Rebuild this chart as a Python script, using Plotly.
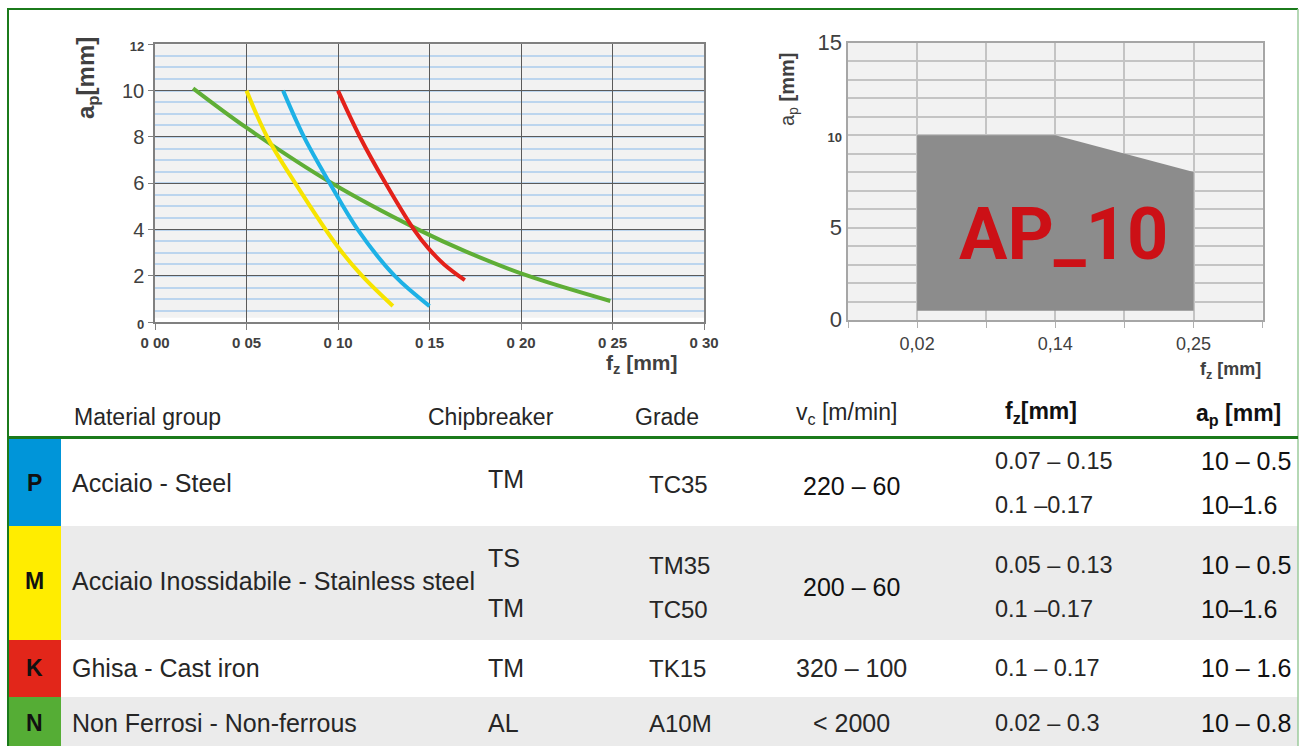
import plotly.graph_objects as go

W, H = 1300, 746

def px(x):
    return x / W

def py(y):
    return 1 - y / H

# ---------------- data: left chart (ap vs fz curves) ----------------
fz_ticks_left = [0.00, 0.05, 0.10, 0.15, 0.20, 0.25, 0.30]
fz_ticklabels_left = ["0 00", "0 05", "0 10", "0 15", "0 20", "0 25", "0 30"]
ap_ticks_left = [0, 2, 4, 6, 8, 10, 12]

green_fz = [0.0208, 0.05, 0.0967, 0.1439, 0.17, 0.204, 0.2488]
green_ap = [10.1, 8.4, 6.0, 4.0, 3.05, 2.0, 0.92]

yellow_fz = [0.05, 0.0613, 0.0767, 0.10, 0.1132, 0.13]
yellow_ap = [10.0, 8.0, 6.0, 3.25, 2.0, 0.7]

blue_fz = [0.07, 0.0814, 0.0955, 0.1108, 0.131, 0.15]
blue_ap = [10.0, 8.0, 6.0, 4.0, 2.0, 0.7]

red_fz = [0.10, 0.112, 0.126, 0.1415, 0.1493, 0.158, 0.1693]
red_ap = [10.0, 8.0, 6.0, 4.0, 3.2, 2.5, 1.82]

# ---------------- data: right chart (AP_10 working area) ----------------
fz_ticks_right = [0.02, 0.14, 0.25]
fz_ticklabels_right = ["0,02", "0,14", "0,25"]
ap_ticks_right = [0, 5, 10, 15]
area_fz = [0.02, 0.02, 0.14, 0.25, 0.25]
area_ap = [0.5, 10, 10, 8, 0.5]
area_label = "AP_10"

# ---------------- data: table ----------------
groups = ["P", "M", "K", "N"]
materials = ["Acciaio - Steel", "Acciaio Inossidabile - Stainless steel",
             "Ghisa - Cast iron", "Non Ferrosi - Non-ferrous"]
chipbreakers = [["TM"], ["TS", "TM"], ["TM"], ["AL"]]
grades = [["TC35"], ["TM35", "TC50"], ["TK15"], ["A10M"]]
vc_ranges = ["220 – 60", "200 – 60", "320 – 100", "< 2000"]
fz_ranges = [["0.07 – 0.15", "0.1 –0.17"], ["0.05 – 0.13", "0.1 –0.17"], ["0.1 – 0.17"], ["0.02 – 0.3"]]
ap_ranges = [["10 – 0.5", "10–1.6"], ["10 – 0.5", "10–1.6"], ["10 – 1.6"], ["10 – 0.8"]]
headers = ["Material group", "Chipbreaker", "Grade", "v<sub>c</sub> [m/min]",
           "<b>f<sub>z</sub>[mm]</b>", "<b>a<sub>p</sub> [mm]</b>"]

# ---------------- styles / layout positions ----------------
group_colors = ["#0095d9", "#ffed00", "#e2261a", "#55ad35"]
row_bg = ["#ffffff", "#ebebeb", "#ffffff", "#ebebeb"]
row_top = [438, 526, 640, 697]
row_bot = [526, 640, 697, 760]
row_mid = [483, 581, 668, 723]
cb_y = [[479], [558, 608], [668], [723]]
gr_y = [[484], [565, 609], [668], [723]]
vc_y = [486, 587, 668, 723]
two_y = [[461, 505], [565, 609], [668], [723]]

curve_colors = {"green": "#5fae36", "yellow": "#f7e400", "blue": "#1eb1e6", "red": "#e3211a"}

TXT = "#262626"
AXT = "#404040"
SANS = "Liberation Sans, Arial, sans-serif"
FS = 25

fig = go.Figure()

for name, xs, ys in [("green", green_fz, green_ap), ("yellow", yellow_fz, yellow_ap),
                     ("blue", blue_fz, blue_ap), ("red", red_fz, red_ap)]:
    fig.add_trace(go.Scatter(x=xs, y=ys, mode="lines", xaxis="x", yaxis="y",
                             line=dict(color=curve_colors[name], width=4, shape="spline", smoothing=1.0),
                             showlegend=False, hoverinfo="skip"))

pos_right = {v: 1 + 2 * i for i, v in enumerate(fz_ticks_right)}
fig.add_trace(go.Scatter(x=[pos_right[v] for v in area_fz], y=area_ap, xaxis="x2", yaxis="y2",
                         mode="lines", fill="toself", fillcolor="#8c8c8c",
                         line=dict(width=0, color="#8c8c8c"), showlegend=False, hoverinfo="skip"))

def big(t, s=20):
    return f'<span style="font-size:{s}px">{t}</span>'

def small(t):
    return f'<span style="font-size:13px"><b>{t}</b></span>'

left_y_text = [small("0"), big("2"), big("4"), big("6"), big("8"), big("10"), small("12")]
right_y_text = [big("0", 22), big("5", 22), small("10"), big("15", 22)]

fig.update_layout(
    width=W, height=H, margin=dict(l=0, r=0, t=0, b=0, pad=0, autoexpand=False),
    paper_bgcolor="white", plot_bgcolor="#f2f2f2",
    xaxis=dict(domain=[px(155), px(704)], range=[0, 0.30], tickvals=fz_ticks_left,
               ticktext=[f"<b>{t}</b>" for t in fz_ticklabels_left], showgrid=True, gridcolor="#5a5a5a", gridwidth=1,
               zeroline=False, showline=True, linecolor="#808080", linewidth=1.5, mirror=True,
               ticks="outside", ticklen=6, tickcolor="#808080", automargin=False,
               tickfont=dict(family=SANS, size=15, color=AXT), anchor="y"),
    yaxis=dict(domain=[py(322.3), py(44.3)], range=[0, 12], tickvals=ap_ticks_left,
               ticktext=left_y_text, showgrid=True, gridcolor="#5a5a5a", gridwidth=1,
               minor=dict(dtick=0.5, showgrid=True, gridcolor="#bcd5ee", gridwidth=1.5),
               zeroline=False, showline=True, linecolor="#808080", linewidth=1.5, mirror=True,
               ticks="outside", ticklen=5, tickcolor="#808080", automargin=False,
               tickfont=dict(family=SANS, size=20, color=AXT), anchor="x"),
    xaxis2=dict(domain=[px(848), px(1262.7)], range=[0, 6], tickvals=[pos_right[v] for v in fz_ticks_right],
                ticktext=fz_ticklabels_right, showgrid=True, gridcolor="#c4c4c4", gridwidth=1.5,
                minor=dict(dtick=1, showgrid=True, gridcolor="#c4c4c4", gridwidth=1.5,
                           ticks="outside", ticklen=6, tickcolor="#b0b0b0"),
                zeroline=False, showline=True, linecolor="#a6a6a6", linewidth=2, mirror=True,
                ticks="outside", ticklen=6, tickcolor="#b0b0b0", automargin=False,
                tickfont=dict(family=SANS, size=18, color=AXT), anchor="y2"),
    yaxis2=dict(domain=[py(320), py(42.7)], range=[0, 15], tickvals=ap_ticks_right,
                ticktext=right_y_text, showgrid=True, gridcolor="#c4c4c4", gridwidth=2,
                minor=dict(dtick=1, showgrid=True, gridcolor="#c4c4c4", gridwidth=2),
                zeroline=False, showline=True, linecolor="#a6a6a6", linewidth=2, mirror=True,
                ticks="", automargin=False,
                tickfont=dict(family=SANS, size=20, color=AXT), anchor="x2"),
)

shapes = []
shapes.append(dict(type="rect", xref="x", yref="y", x0=0, x1=0.30, y0=0, y1=0.2,
                   fillcolor="white", line=dict(width=0), layer="below"))

for i in range(len(groups)):
    shapes.append(dict(type="rect", xref="paper", yref="paper", x0=px(61), x1=px(1298),
                       y0=py(row_bot[i]), y1=py(row_top[i]), fillcolor=row_bg[i], line=dict(width=0)))
    shapes.append(dict(type="rect", xref="paper", yref="paper", x0=px(7), x1=px(61),
                       y0=py(row_bot[i]), y1=py(row_top[i]), fillcolor=group_colors[i], line=dict(width=0)))

FR = "#1b7a1b"
shapes.append(dict(type="line", xref="paper", yref="paper", x0=px(7), x1=px(1298), y0=py(9), y1=py(9),
                   line=dict(color=FR, width=2)))
shapes.append(dict(type="line", xref="paper", yref="paper", x0=px(8), x1=px(8), y0=py(9), y1=py(760),
                   line=dict(color=FR, width=2)))
shapes.append(dict(type="line", xref="paper", yref="paper", x0=px(1298), x1=px(1298), y0=py(9), y1=py(760),
                   line=dict(color="#9ccb9c", width=1.5)))
shapes.append(dict(type="line", xref="paper", yref="paper", x0=px(7), x1=px(1298), y0=py(437.5), y1=py(437.5),
                   line=dict(color=FR, width=3)))
fig.update_layout(shapes=shapes)

ann = []

def A(x, y, text, size=FS, color=TXT, family=SANS, xanchor="center", **kw):
    ann.append(dict(x=px(x), y=py(y), xref="paper", yref="paper", text=text, showarrow=False,
                    xanchor=xanchor, yanchor="middle", font=dict(size=size, color=color, family=family), **kw))

# axis titles
A(88, 78, "<b>a<sub>p</sub>[mm]</b>", size=24, color=AXT, textangle=-90)
A(642, 364, "<b>f<sub>z</sub> [mm]</b>", size=21, color=AXT)
A(789, 90, "a<sub>p</sub> <b>[mm]</b>", size=20, color=AXT, textangle=-90)
A(1230, 370, "<b>f<sub>z</sub> [mm]</b>", size=18, color=AXT)

# AP_10 label
ann.append(dict(x=3.12, y=4.6, xref="x2", yref="y2", text=f"<b>{area_label}</b>", showarrow=False,
                xanchor="center", yanchor="middle",
                font=dict(size=72, color="#cc1016", family="Roboto, Liberation Sans, sans-serif")))

# table headers
A(72, 417, headers[0], size=23, xanchor="left")
A(491, 417, headers[1], size=23)
A(667, 417, headers[2], size=23)
A(846, 413, headers[3], size=23)
A(1041, 412, headers[4], size=23, color="#111111")
A(1238, 414, headers[5], size=23, color="#111111")

for i in range(len(groups)):
    A(34, row_mid[i], f"<b>{groups[i]}</b>", size=23, color="#111111")
    A(70, row_mid[i], materials[i], xanchor="left")
    for t, yy in zip(chipbreakers[i], cb_y[i]):
        A(486, yy, t, xanchor="left")
    for t, yy in zip(grades[i], gr_y[i]):
        A(647, yy, t, xanchor="left", size=24)
    A(851, vc_y[i], vc_ranges[i], color="#111111" if i < 2 else TXT)
    for t, yy in zip(fz_ranges[i], two_y[i]):
        A(993, yy, t, xanchor="left", size=23.5)
    for t, yy in zip(ap_ranges[i], two_y[i]):
        A(1199, yy, t, xanchor="left", color="#111111")

fig.update_layout(annotations=ann)
fig.write_html("out.html", config={"displayModeBar": False},
               post_script="document.body.style.margin='0px';")
